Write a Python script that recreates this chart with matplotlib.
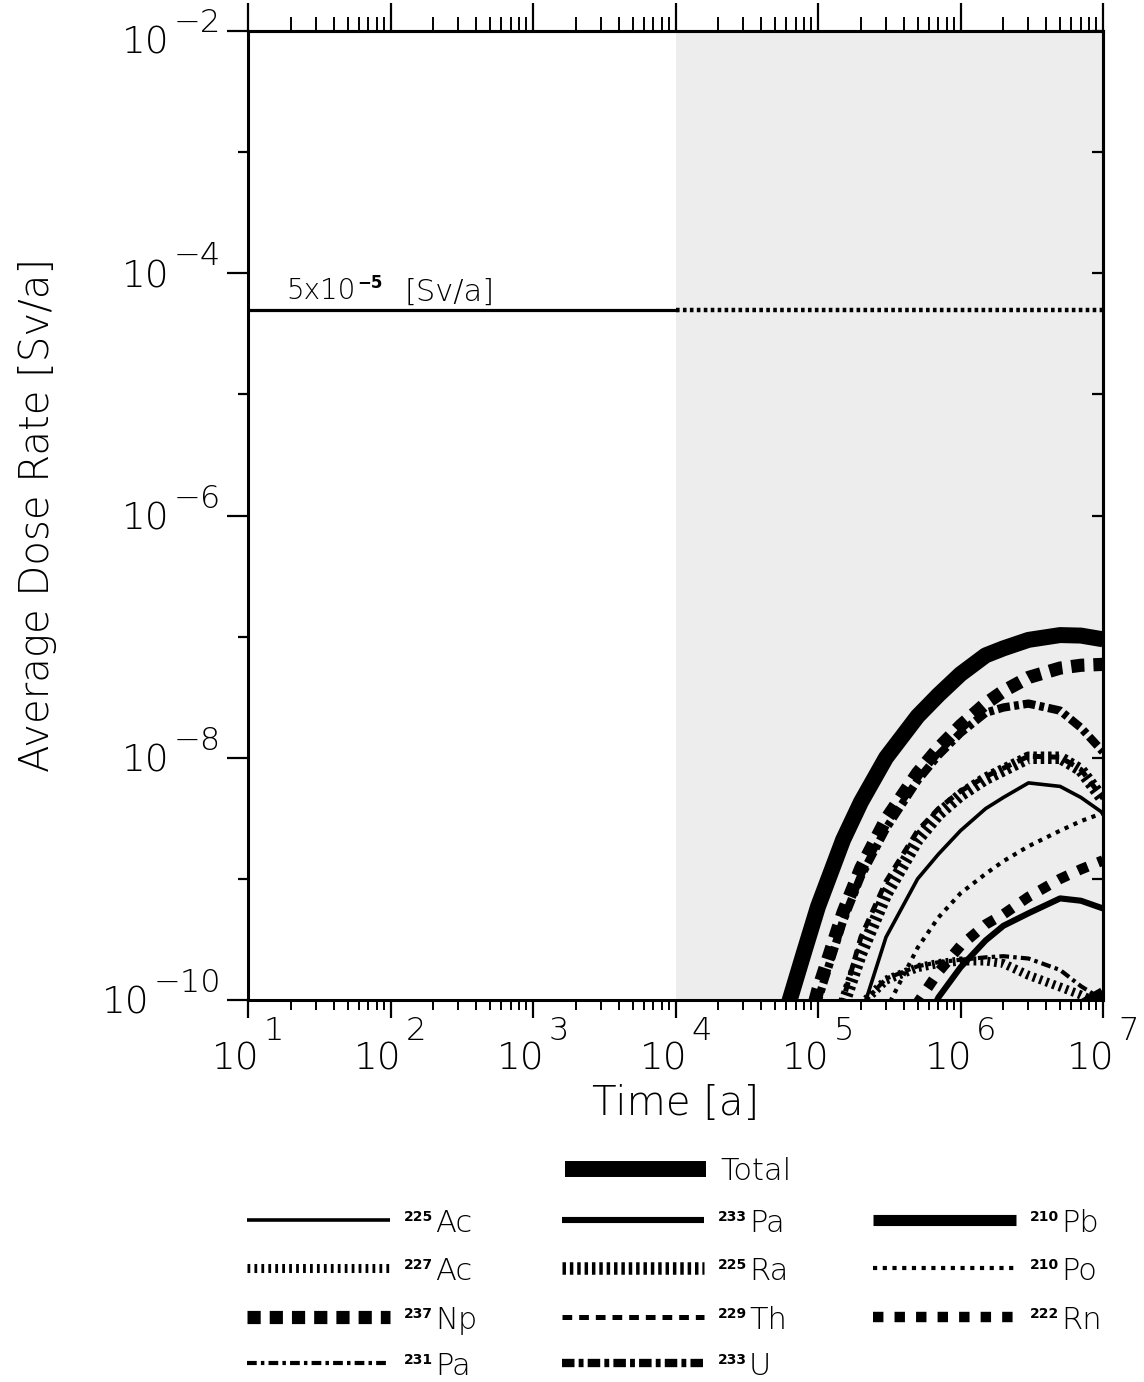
import numpy as np
import matplotlib
matplotlib.use("Agg")
import matplotlib.pyplot as plt
from matplotlib.ticker import FixedLocator, NullLocator, NullFormatter, LogLocator

plt.rcParams["font.family"] = ["DejaVu Sans"]
plt.rcParams["lines.scale_dashes"] = False
plt.rcParams["mathtext.fontset"] = "dejavusans"

# ---------------- data ----------------
N = np.nan
T = [4e4, 5e4, 6e4, 8e4, 1e5, 1.5e5, 2e5, 3e5, 5e5, 7e5, 1e6, 1.5e6, 2e6, 3e6, 5e6, 7e6, 1e7]
TOTAL = [1.4e-11, 3.8e-11, 8.1e-11, 2.5e-10, 5.9e-10, 2.1e-9, 4.3e-9, 1.0e-8, 2.2e-8, 3.3e-8, 4.9e-8, 7.0e-8, 8.0e-8, 9.4e-8, 1.03e-7, 1.02e-7, 9.5e-8]
NP237 = [1.6e-12, 5.1e-12, 1.23e-11, 4.6e-11, 1.22e-10, 5.3e-10, 1.23e-9, 3.1e-9, 7.5e-9, 1.2e-8, 1.84e-8, 2.8e-8, 3.55e-8, 4.6e-8, 5.5e-8, 5.8e-8, 5.9e-8]
U233 = [1.2e-12, 4e-12, 1.0e-11, 3.8e-11, 1.0e-10, 4.5e-10, 1.05e-9, 2.6e-9, 6.5e-9, 1.05e-8, 1.6e-8, 2.35e-8, 2.6e-8, 2.8e-8, 2.45e-8, 1.77e-8, 1.12e-8]
RA225 = [N, N, N, 1e-11, 2.5e-11, 9e-11, 2.4e-10, 7.4e-10, 2.1e-9, 3.4e-9, 4.9e-9, 6.7e-9, 7.9e-9, 1.0e-8, 1.0e-8, 7.9e-9, 4.5e-9]
TH229 = [N, N, N, 1.5e-11, 4e-11, 1.0e-10, 3.3e-10, 9.5e-10, 2.5e-9, 3.8e-9, 5.3e-9, 7.0e-9, 8.2e-9, 1.03e-8, 1.01e-8, 8.0e-9, 4.6e-9]
AC225 = [N, N, N, N, 5e-12, 2.2e-11, 7.4e-11, 3.3e-10, 1.0e-9, 1.6e-9, 2.5e-9, 3.8e-9, 4.7e-9, 6.2e-9, 5.8e-9, 4.7e-9, 3.5e-9]
PO210 = [N, N, N, N, N, 4e-12, 2.2e-11, 8.3e-11, 2.7e-10, 4.8e-10, 7.6e-10, 1.1e-9, 1.4e-9, 1.86e-9, 2.5e-9, 3.0e-9, 3.5e-9]
RN222 = [N, N, N, N, N, N, N, 3e-11, 9.5e-11, 1.7e-10, 2.8e-10, 4.2e-10, 5.1e-10, 7.1e-10, 1.0e-9, 1.2e-9, 1.42e-9]
PA233 = [N, N, N, N, N, N, N, N, 4.7e-11, 1.05e-10, 1.86e-10, 3.1e-10, 4.1e-10, 5.2e-10, 6.9e-10, 6.6e-10, 5.7e-10]
AC227 = [N, N, N, N, 1e-11, 4.7e-11, 9.1e-11, 1.46e-10, 1.85e-10, 2.0e-10, 2.1e-10, 2.1e-10, 2.0e-10, 1.6e-10, 1.28e-10, 1.1e-10, 9e-11]
PA231 = [N, N, N, N, N, 4.5e-11, 9e-11, 1.5e-10, 1.9e-10, 2.05e-10, 2.15e-10, 2.25e-10, 2.3e-10, 2.2e-10, 1.77e-10, 1.3e-10, 1.0e-10]
PB210 = [N, N, N, N, N, N, N, N, N, N, N, N, 1.5e-11, 3e-11, 6e-11, 9e-11, 1.15e-10]

THRESH = 5e-5
THRESH_SPLIT = 1e4
XLIM = (1e1, 1e7)
YLIM = (1e-10, 1e-2)
SHADE = (1e4, 1e7)
XTICKS = [1e1, 1e2, 1e3, 1e4, 1e5, 1e6, 1e7]
XEXP = ["1", "2", "3", "4", "5", "6", "7"]
YTICKS = [1e-2, 1e-4, 1e-6, 1e-8, 1e-10]
YEXP = ["\u22122", "\u22124", "\u22126", "\u22128", "\u221210"]
YMINOR = [1e-3, 1e-5, 1e-7, 1e-9]
YALL = [10.0 ** k for k in range(-10, -1)]

# ---------------- styles ----------------
STY = {
    "Total": dict(lw=11.5, ls="-"),
    "225Ac": dict(lw=2.6, ls="-"),
    "227Ac": dict(lw=6.5, ls=(0, (2.0, 3.0))),
    "237Np": dict(lw=9.5, ls=(0, (9.5, 6.5))),
    "231Pa": dict(lw=3, ls=(0, (7, 3, 2.5, 3))),
    "233Pa": dict(lw=4.4, ls="-"),
    "225Ra": dict(lw=9, ls=(0, (2.5, 2.8))),
    "229Th": dict(lw=3.6, ls=(0, (7, 5))),
    "233U": dict(lw=6, ls=(0, (9, 3, 3.5, 3))),
    "210Pb": dict(lw=8, ls="-"),
    "210Po": dict(lw=3, ls=(0, (3, 4))),
    "222Rn": dict(lw=7.5, ls=(0, (7.5, 8))),
}
SERIES = {
    "Total": TOTAL, "237Np": NP237, "233U": U233, "225Ra": RA225, "229Th": TH229,
    "225Ac": AC225, "210Po": PO210, "222Rn": RN222, "233Pa": PA233,
    "227Ac": AC227, "231Pa": PA231, "210Pb": PB210,
}
DRAW_ORDER = ["Total", "237Np", "233U", "225Ra", "229Th", "225Ac", "210Po",
              "222Rn", "233Pa", "227Ac", "231Pa", "210Pb"]

LIGHT = "light"

W, H = 1144, 1382
fig = plt.figure(figsize=(W / 100, H / 100), dpi=100)
fig.patch.set_facecolor("white")


def frac(x0, y0, x1, y1):
    return [x0 / W, 1 - y1 / H, (x1 - x0) / W, (y1 - y0) / H]


ax = fig.add_axes(frac(248, 31, 1103, 1000))
ax.set_xscale("log")
ax.set_yscale("log")
ax.set_xlim(*XLIM)
ax.set_ylim(*YLIM)
ax.axvspan(SHADE[0], SHADE[1], color="#ededed", lw=0, zorder=0)

for name in DRAW_ORDER:
    st = STY[name]
    ax.plot(T, SERIES[name], color="black", lw=st["lw"], linestyle=st["ls"],
            dash_capstyle="butt", solid_capstyle="butt", solid_joinstyle="round",
            zorder=3)

# threshold line
ax.plot([XLIM[0], THRESH_SPLIT], [THRESH, THRESH], color="black", lw=2.3, zorder=3)
ax.plot([THRESH_SPLIT, XLIM[1]], [THRESH, THRESH], color="black", lw=3.2,
        linestyle=(0, (2.6, 2.4)), dash_capstyle="butt", zorder=3)

# ticks
for sp in ax.spines.values():
    sp.set_linewidth(2.2)
ax.xaxis.set_major_locator(FixedLocator(XTICKS))
ax.xaxis.set_minor_locator(LogLocator(base=10, subs=np.arange(2, 10), numticks=100))
ax.xaxis.set_major_formatter(NullFormatter())
ax.xaxis.set_minor_formatter(NullFormatter())
ax.yaxis.set_major_locator(FixedLocator(YTICKS))
ax.yaxis.set_minor_locator(FixedLocator(YMINOR))
ax.yaxis.set_major_formatter(NullFormatter())
ax.yaxis.set_minor_formatter(NullFormatter())
ax.tick_params(axis="x", which="major", direction="out", length=13, width=1.6, top=False)
ax.tick_params(axis="x", which="minor", direction="out", length=7, width=1.4, top=False)
ax.tick_params(axis="y", which="major", direction="out", length=15, width=1.6, right=False)
ax.tick_params(axis="y", which="minor", direction="out", length=7, width=1.6, right=False)

secx = ax.secondary_xaxis("top")
secx.xaxis.set_major_locator(FixedLocator(XTICKS))
secx.xaxis.set_minor_locator(LogLocator(base=10, subs=np.arange(2, 10), numticks=100))
secx.xaxis.set_major_formatter(NullFormatter())
secx.xaxis.set_minor_formatter(NullFormatter())
secx.tick_params(which="major", direction="out", length=20, width=1.6)
secx.tick_params(which="minor", direction="out", length=10, width=1.4)
secx.spines["top"].set_linewidth(2.2)

secy = ax.secondary_yaxis("right")
secy.yaxis.set_major_locator(FixedLocator(YALL))
secy.yaxis.set_minor_locator(NullLocator())
secy.yaxis.set_major_formatter(NullFormatter())
secy.tick_params(which="major", direction="in", length=8, width=1.6)
secy.spines["right"].set_linewidth(2.2)

renderer = fig.canvas.get_renderer()

# y tick labels
for v, lab in zip(YTICKS, YEXP):
    xd, yd = ax.transData.transform((XLIM[0], v))
    shift = 0
    te = fig.text((xd - 27) / W, (yd + 8) / H, lab, fontsize=23, ha="right",
                  va="baseline", fontweight=LIGHT, color="black")
    bb = te.get_window_extent(renderer)
    if bb.y1 > H - 8:
        shift = bb.y1 - (H - 8)
        te.set_position(((xd - 27) / W, (yd + 8 - shift) / H))
    fig.text((bb.x0 - 4) / W, (yd - 14 - shift) / H, "10", fontsize=27, ha="right",
             va="baseline", fontweight=LIGHT, color="black")

# x tick labels
for v, lab in zip(XTICKS, XEXP):
    xd, yd = ax.transData.transform((v, YLIM[0]))
    tb = fig.text(0, 0, "10", fontsize=27, ha="left", va="baseline", fontweight=LIGHT)
    te = fig.text(0, 0, lab, fontsize=23, ha="left", va="baseline", fontweight=LIGHT)
    w1 = tb.get_window_extent(renderer).width
    w2 = te.get_window_extent(renderer).width
    x0 = xd - (w1 + 4 + w2) / 2
    tb.set_position((x0 / W, (yd - 70) / H))
    te.set_position(((x0 + w1 + 4) / W, (yd - 40) / H))

# axis titles
fig.text(676 / W, 1 - 1104 / H, "Time [a]", fontsize=29, ha="center", va="center",
         fontweight=LIGHT)
fig.text(38 / W, 1 - 515 / H, "Average Dose Rate [Sv/a]", fontsize=29,
         rotation=90, ha="center", va="center", fontweight=LIGHT)

# threshold label
xd, yd = ax.transData.transform((XLIM[0], THRESH))
t1 = fig.text((xd + 38) / W, (yd + 11) / H, "5x10", fontsize=20, ha="left",
              va="baseline", fontweight=LIGHT)
bb = t1.get_window_extent(renderer)
t2 = fig.text((bb.x1 + 2) / W, (yd + 22) / H, "\u22125", fontsize=12, fontweight="bold",
              ha="left", va="baseline")
fig.text((xd + 156) / W, (yd + 9) / H, "[Sv/a]", fontsize=22, ha="left", va="baseline",
         fontweight=LIGHT)

# legend
lax = fig.add_axes([0, 0, 1, 1])
lax.set_xlim(0, W)
lax.set_ylim(H, 0)
lax.axis("off")

LEG = [
    ("Total", None, "Total", 565, 706, 1169),
    ("225Ac", "225", "Ac", 247, 390, 1220),
    ("227Ac", "227", "Ac", 247, 390, 1268),
    ("237Np", "237", "Np", 247, 390, 1317),
    ("231Pa", "231", "Pa", 247, 390, 1363),
    ("233Pa", "233", "Pa", 562, 704, 1220),
    ("225Ra", "225", "Ra", 562, 704, 1268),
    ("229Th", "229", "Th", 562, 704, 1317),
    ("233U", "233", "U", 562, 704, 1363),
    ("210Pb", "210", "Pb", 873, 1016, 1220),
    ("210Po", "210", "Po", 873, 1016, 1268),
    ("222Rn", "222", "Rn", 873, 1016, 1317),
]
for name, sup, main, x0, x1, y in LEG:
    st = STY[name]
    lax.plot([x0, x1], [y, y], color="black", lw=st["lw"], linestyle=st["ls"],
             dash_capstyle="butt", solid_capstyle="butt")
    xl = x1 + 14
    if sup is None:
        fig.text(xl / W, 1 - (y + 11) / H, main, fontsize=22, ha="left", va="baseline",
                 fontweight=LIGHT)
    else:
        ts = fig.text(xl / W, 1 - (y + 1) / H, sup, fontsize=10, fontweight="bold",
                      ha="left", va="baseline")
        b = ts.get_window_extent(renderer)
        fig.text((b.x1 + 2) / W, 1 - (y + 12) / H, main, fontsize=22, ha="left",
                 va="baseline", fontweight=LIGHT)

fig.savefig("out.png", dpi=100, facecolor="white")
